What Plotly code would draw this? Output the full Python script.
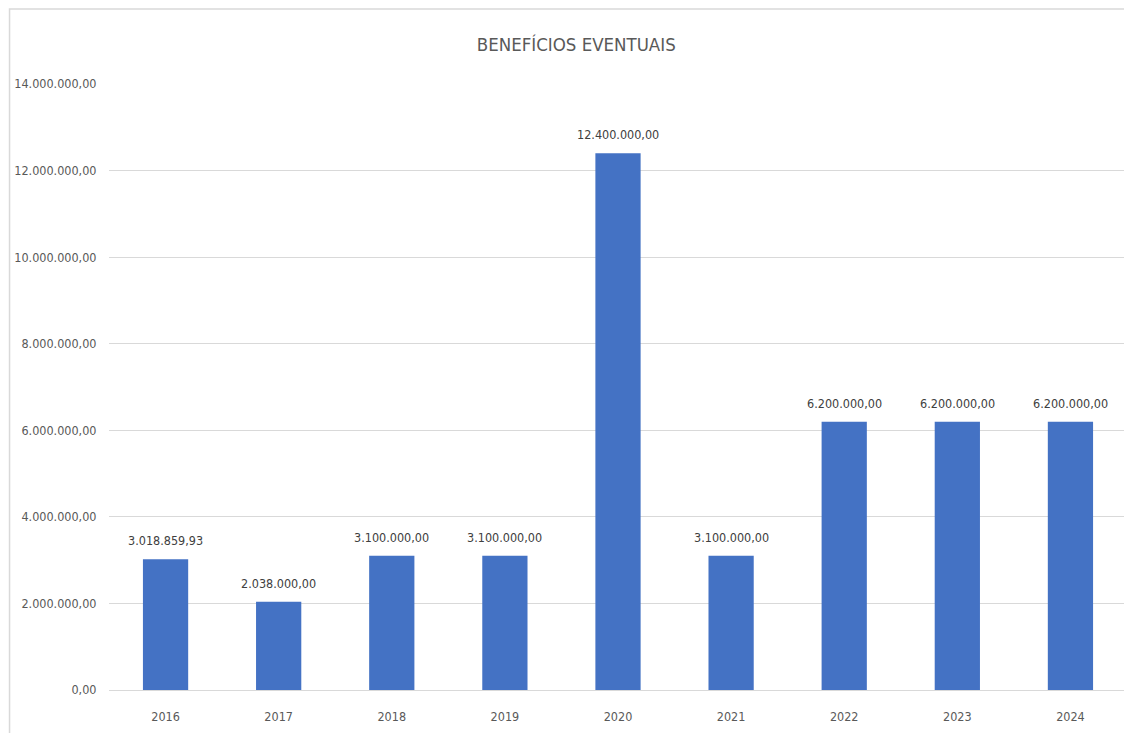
import plotly.graph_objects as go

years = ["2016", "2017", "2018", "2019", "2020", "2021", "2022", "2023", "2024"]
values = [3018859.93, 2038000.00, 3100000.00, 3100000.00, 12400000.00,
          3100000.00, 6200000.00, 6200000.00, 6200000.00]
y_ticks = [0, 2000000, 4000000, 6000000, 8000000, 10000000, 12000000, 14000000]
title = "BENEFÍCIOS EVENTUAIS"


def br(v):
    s = f"{v:,.2f}"
    return s.replace(",", "X").replace(".", ",").replace("X", ".")


FONT = "DejaVu Sans Condensed, Liberation Sans Narrow, sans-serif"
GREY = "#595959"

fig = go.Figure(go.Bar(
    x=years, y=values,
    marker=dict(color="#4472C4", line=dict(width=0)),
    hoverinfo="skip",
))

# category axis: annotation x uses category index
annotations = [
    dict(x=i, y=v, xref="x", yref="y", text=br(v), showarrow=False,
         yanchor="bottom", yshift=9,
         font=dict(family=FONT, size=12.5, color="#404040"))
    for i, v in enumerate(values)
]

fig.update_layout(
    width=1132, height=733,
    margin=dict(l=100.5, r=13.4, t=76, b=51),
    paper_bgcolor="white", plot_bgcolor="white",
    bargap=0.6,
    showlegend=False,
    title=dict(text=title, x=0.502, xanchor="center", xref="container",
               y=0.9495, yanchor="middle", yref="container",
               font=dict(family=FONT, size=18.5, color=GREY)),
    font=dict(family=FONT, color=GREY, size=12),
    xaxis=dict(type="category", range=[-0.5, len(years) - 0.5],
               automargin=False,
               showgrid=False, showline=False, zeroline=False,
               ticks="outside", ticklen=15, tickcolor="rgba(0,0,0,0)",
               tickfont=dict(family=FONT, size=12.5, color=GREY)),
    yaxis=dict(range=[0, 14000000], tickvals=y_ticks,
               ticktext=[br(v) for v in y_ticks],
               automargin=False,
               showgrid=True, gridcolor="#d9d9d9", gridwidth=1,
               zeroline=True, zerolinecolor="#d9d9d9", zerolinewidth=1,
               showline=False, ticks="outside", ticklen=9,
               tickcolor="rgba(0,0,0,0)",
               tickfont=dict(family=FONT, size=12.5, color=GREY)),
    annotations=annotations,
    shapes=[dict(type="rect", xref="paper", yref="paper",
                 x0=-0.0977, x1=1.2, y0=-0.3, y1=1.1238,
                 line=dict(color="#d9d9d9", width=1.5),
                 fillcolor="rgba(0,0,0,0)", layer="below")],
)

fig.write_html("out.html")
